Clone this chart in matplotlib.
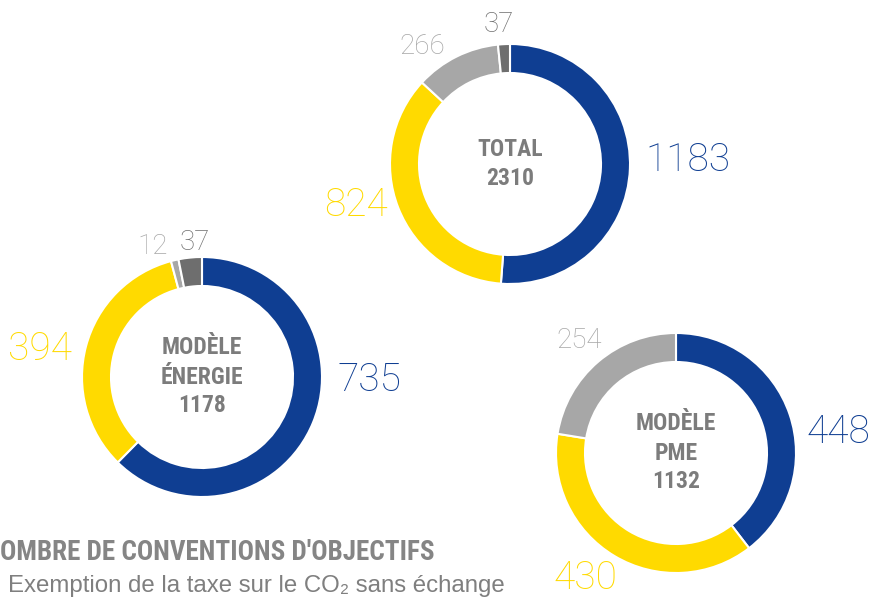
"""
Donut charts: nombre de conventions d'objectifs
"""
import matplotlib.pyplot as plt

W, H = 872, 597

colors = ["#0F3E92", "#FFDA00", "#A7A7A7", "#6E6E6E"]

total_values = [1183, 824, 266, 37]
energie_values = [735, 394, 12, 37]
pme_values = [448, 430, 254]

total_title = ["TOTAL"]
energie_title = ["MODÈLE", "ÉNERGIE"]
pme_title = ["MODÈLE", "PME"]

heading = "OMBRE DE CONVENTIONS D'OBJECTIFS"
subheading = "Exemption de la taxe sur le CO₂ sans échange"

narrow = ["Roboto Condensed", "Archivo Narrow", "Liberation Sans Narrow", "DejaVu Sans"]
light = ["Roboto", "DejaVu Sans"]
center_gray = "#7C7C7C"

fig = plt.figure(figsize=(W / 100, H / 100), dpi=100)
ax = fig.add_axes([0, 0, 1, 1])


def donut(values, cx, cy, title, label_pos, label_sizes):
    # cy given in image pixels (top down)
    ax.pie(values, colors=colors[:len(values)], startangle=90, counterclock=False,
           center=(cx, H - cy), radius=120,
           wedgeprops=dict(width=29, edgecolor="white", linewidth=1.5))
    lines = title + [str(sum(values))]
    n = len(lines)
    for i, line in enumerate(lines):
        y = cy + (i - (n - 1) / 2) * 29
        ax.text(cx, H - y, line, ha="center", va="center", fontsize=17,
                fontweight="heavy", family=narrow, color=center_gray)
    for v, c, (lx, ly), fs in zip(values, colors, label_pos, label_sizes):
        ax.text(lx, H - ly, str(v), ha="center", va="center", fontsize=fs,
                fontweight="light", family=light, color=c)


donut(total_values, 510, 164, total_title,
      [(688, 160), (356, 205), (422, 47), (499, 25)], [28, 28, 20, 20])
donut(energie_values, 202, 377, energie_title,
      [(369, 380), (40, 349), (153, 246), (195, 242)], [28, 28, 20, 20])
donut(pme_values, 676, 453, pme_title,
      [(838, 432), (585, 578), (579, 340)], [28, 28, 20])

ax.text(0, H - 553, heading, ha="left", va="center", fontsize=19.5,
        fontweight="heavy", family=narrow, color="#858585")
ax.text(8, H - 592, subheading, ha="left", va="baseline", fontsize=17.3,
        family=["Liberation Sans", "DejaVu Sans"], color="#7F7F7F")

ax.set_xlim(0, W)
ax.set_ylim(0, H)
ax.set_aspect("equal")
ax.axis("off")

fig.savefig("out.png", dpi=100)
